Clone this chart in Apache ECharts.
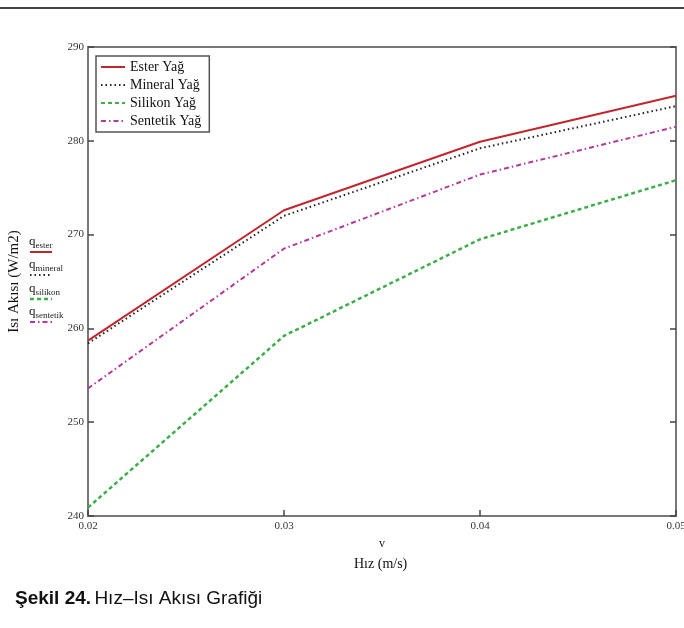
<!DOCTYPE html>
<html>
   <head>
       <meta charset="utf-8">
       <style>
           body { margin: 0; background: #fff; }
       </style>
   </head>
   <body>
       <div id="container" style="height: 628px;width: 684px;"></div>
   </body>
</html>
<script type="text/javascript" src="https://cdn.jsdelivr.net/npm/echarts@6/dist/echarts.min.js"></script>
<script type="text/javascript">
    // hız (m/s)
    const velocities = [0.02, 0.03, 0.04, 0.05];
    // ısı akısı (W/m2)
    const esterValues = [258.7, 272.6, 279.9, 284.8];
    const mineralValues = [258.4, 272.0, 279.2, 283.7];
    const silikonValues = [240.9, 259.2, 269.5, 275.8];
    const sentetikValues = [253.6, 268.5, 276.4, 281.5];
    const seriesNames = ['Ester Yağ', 'Mineral Yağ', 'Silikon Yağ', 'Sentetik Yağ'];
    const subNames = ['ester', 'mineral', 'silikon', 'sentetik'];

    const serif = '"Liberation Serif", "DejaVu Serif", serif';
    const sans = '"Liberation Sans Narrow", "Liberation Sans", sans-serif';
    const colors = ['#c0272d', '#222222', '#3dae49', '#b23a9c'];
    const dashes = ['solid', [1.5, 3], [4, 3], [5, 3, 1.5, 3]];
    const widths = [2, 2, 2.5, 2];

    const dom = document.getElementById("container");
    const myChart = echarts.init(dom);

    function pairs(vals) {
        return velocities.map(function (v, i) { return [v, vals[i]]; });
    }
    const allValues = [esterValues, mineralValues, silikonValues, sentetikValues];

    const series = allValues.map(function (vals, i) {
        return {
            name: seriesNames[i],
            type: 'line',
            symbol: 'none',
            data: pairs(vals),
            z: 10 - i,
            lineStyle: { color: colors[i], width: widths[i], type: dashes[i] },
            itemStyle: { color: colors[i] }
        };
    });

    // sol taraftaki q etiketleri
    const qLabels = [];
    const qY = [243, 266, 290, 313];
    subNames.forEach(function (s, i) {
        qLabels.push({
            type: 'text', left: 29, top: qY[i] - 8,
            style: {
                text: '{q|q}{s|' + s + '}',
                rich: {
                    q: { fontFamily: serif, fontSize: 13, fill: '#222' },
                    s: { fontFamily: serif, fontSize: 9, fill: '#222', padding: [8, 0, 0, 0] }
                }
            }
        });
        qLabels.push({
            type: 'line',
            shape: { x1: 30, y1: qY[i] + 9, x2: 52, y2: qY[i] + 9 },
            style: { stroke: colors[i], lineWidth: widths[i], lineDash: dashes[i] === 'solid' ? null : dashes[i] }
        });
    });

    const option = {
        animation: false,
        backgroundColor: '#fff',
        grid: {
            left: 88, right: 8, top: 47, bottom: 112,
            outerBoundsMode: 'none',
            show: true, borderColor: '#777', borderWidth: 2
        },
        legend: {
            left: 96, top: 56,
            orient: 'vertical',
            data: seriesNames,
            itemWidth: 24, itemHeight: 10, itemGap: 0,
            padding: [2, 8, 2, 4],
            borderColor: '#555', borderWidth: 1.5,
            backgroundColor: '#fff',
            itemStyle: { opacity: 0 },
            textStyle: { fontFamily: serif, fontSize: 14, color: '#111', lineHeight: 18 }
        },
        xAxis: {
            type: 'value',
            min: 0.02, max: 0.05, interval: 0.01,
            axisLine: { show: true, lineStyle: { color: '#777', width: 2 } },
            axisTick: { show: true, inside: true, length: 6, lineStyle: { color: '#444', width: 1.5 } },
            splitLine: { show: false },
            axisLabel: {
                fontFamily: serif, fontSize: 11, color: '#333', margin: 5,
                formatter: function (v) { return v.toFixed(2); }
            }
        },
        yAxis: [{
            type: 'value',
            min: 240, max: 290, interval: 10,
            name: 'Isı Akısı (W/m2)',
            nameLocation: 'middle', nameRotate: 90, nameGap: 66,
            nameTextStyle: { fontFamily: serif, fontSize: 15, color: '#111' },
            axisLine: { show: true, lineStyle: { color: '#777', width: 2 } },
            axisTick: { show: true, inside: true, length: 6, lineStyle: { color: '#444', width: 1.5 } },
            splitLine: { show: false },
            axisLabel: { fontFamily: serif, fontSize: 11, color: '#333', margin: 4 }
        }, {
            type: 'value',
            position: 'right',
            min: 240, max: 290, interval: 10,
            axisLine: { show: true, lineStyle: { color: '#777', width: 2 } },
            axisTick: { show: true, inside: true, length: 6, lineStyle: { color: '#444', width: 1.5 } },
            splitLine: { show: false },
            axisLabel: { show: false }
        }],
        graphic: [
            {
                type: 'rect', left: 0, top: 7,
                shape: { width: 684, height: 2 },
                style: { fill: '#444' }
            },
            {
                type: 'text', left: 379, top: 538,
                style: { text: 'v', fontFamily: serif, fontSize: 12, fill: '#222' }
            },
            {
                type: 'text', left: 354, top: 557,
                style: { text: 'Hız (m/s)', fontFamily: serif, fontSize: 14, fill: '#111' }
            },
            {
                type: 'text', left: 15, top: 589,
                style: {
                    text: '{b|Şekil 24.} {n|Hız–Isı Akısı Grafiği}',
                    rich: {
                        b: { fontFamily: sans, fontWeight: 'bold', fontSize: 19, fill: '#111' },
                        n: { fontFamily: sans, fontSize: 19, fill: '#111' }
                    }
                }
            }
        ].concat(qLabels),
        series: series
    };
    myChart.setOption(option, true);
</script>
